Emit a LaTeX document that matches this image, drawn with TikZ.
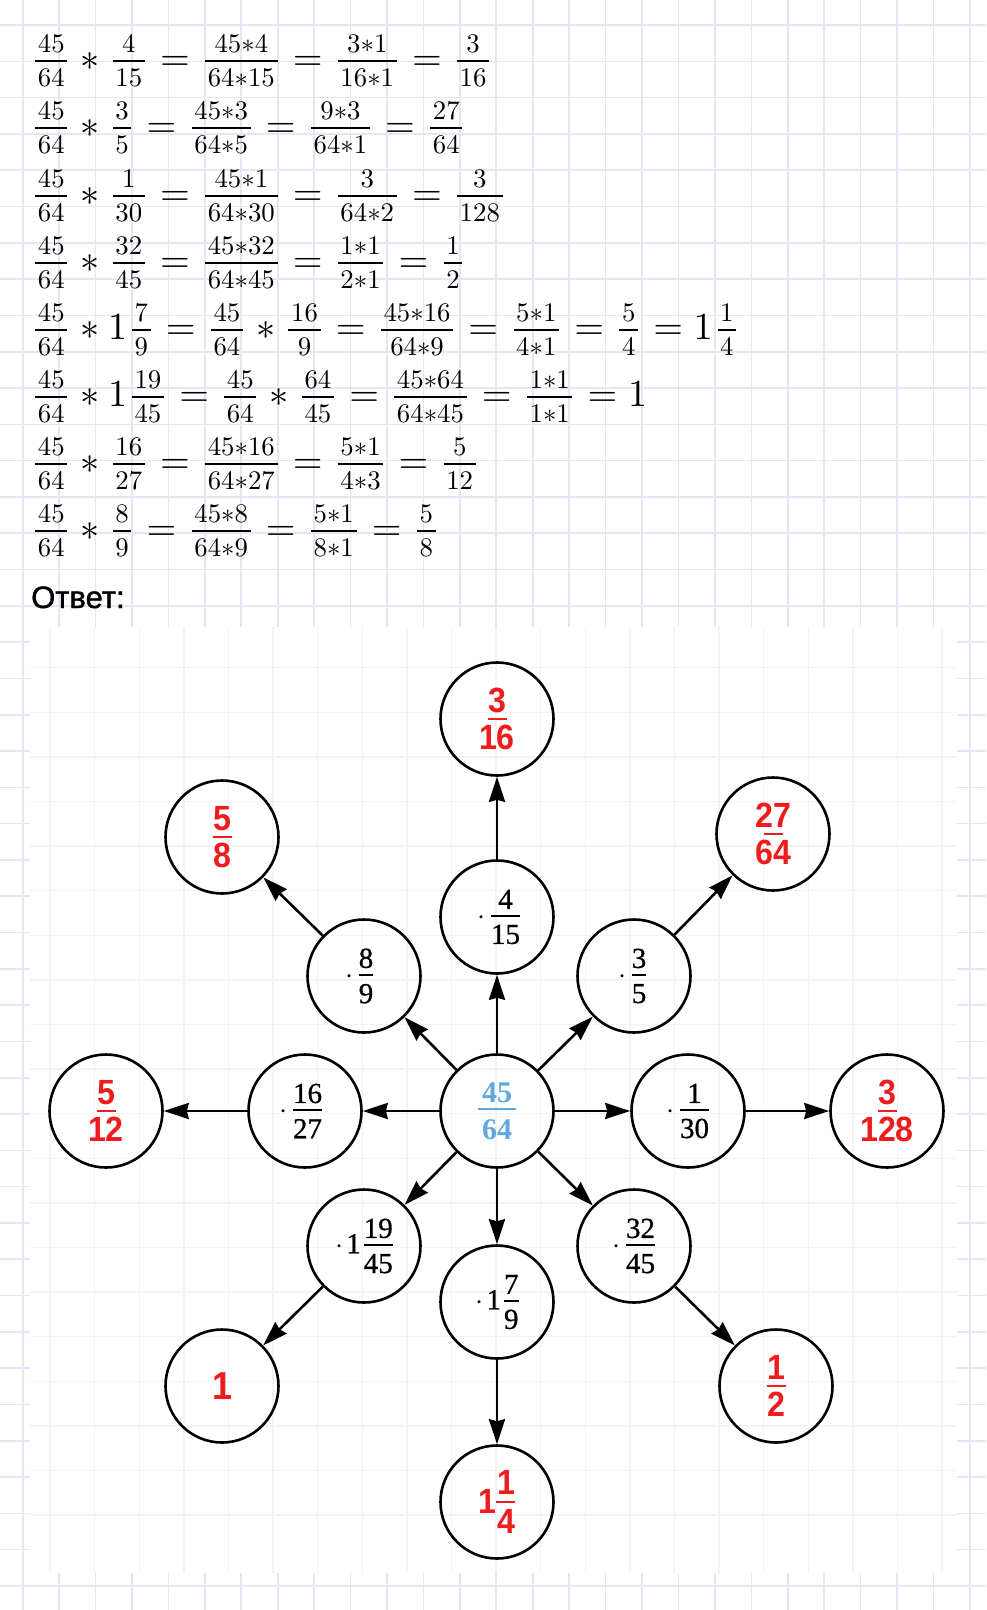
\RequirePackage{fix-cm}
\documentclass[tikz,border=0pt]{standalone}
\usepackage{amsmath}
\usepackage{fontspec}
\newfontfamily\tms{Liberation Serif}[FakeBold=0.8]
\newfontfamily\tmsb{Liberation Serif}[BoldFont={* Bold}]
\newfontfamily\ars{Liberation Sans}
\newfontfamily\arsm{Liberation Sans}[FakeBold=1.2]
\usetikzlibrary{arrows.meta}
\definecolor{gridc}{RGB}{228,229,245}
\definecolor{scang}{RGB}{242,242,248}
\definecolor{rd}{RGB}{238,28,28}
\definecolor{bl}{RGB}{95,168,222}
\newcommand\st{\mathord{\ast}}
\newcommand\qb[2]{\vcenter{\offinterlineskip\halign{\hfil##\hfil\cr\kern.7pt\scalebox{.7}{$#1$}\kern.7pt\cr\noalign{\kern1.95pt\hrule height .52pt\kern1.95pt}\kern.7pt\scalebox{.7}{$#2$}\kern.7pt\cr}}}
\newcommand\q[2]{\mathinner{\kern1.2pt\qb{#1}{#2}\kern1.2pt}}
\newcommand\qm[2]{\mathord{\kern1.2pt\qb{#1}{#2}\kern1.2pt}}
\newcommand\bfr[2]{\vcenter{\offinterlineskip\halign{\hfil##\hfil\cr\mbox{#1}\cr\noalign{\kern6pt\hrule height1.8pt\kern8pt}\mbox{#2}\cr}}}
\newcommand\rd[1]{\scalebox{0.92}[1]{#1}}
\newcommand\rfr[3][5pt]{\vbox{\offinterlineskip\halign{\hfil##\hfil\cr\rd{#2}\cr\noalign{\kern#1}\rule{19pt}{1.8pt}\cr\noalign{\kern#1}\rd{#3}\cr}}}
\tikzset{
  circ/.style={circle,draw=black,line width=2.6pt,minimum size=113pt,inner sep=0pt},
  opn/.style={circ,font=\fontsize{29}{34}\tms},
  res/.style={circ,text=rd,font=\fontsize{35}{40}\ars\bfseries},
  arr/.style={line width=2.6pt,-{Stealth[length=25pt,width=16pt,inset=2pt]}},
  eqn/.style={anchor=base west,inner sep=0pt,font=\fontsize{10}{12}\selectfont}
}
\begin{document}
\begin{tikzpicture}[x=1pt,y=-1pt]
\useasboundingbox (0,0) rectangle (986,1610);
\fill[white] (0,0) rectangle (986,1610);
% page grid
\foreach \i in {0,...,26} \draw[gridc,line width=1.6pt] ({22.7+36.43*\i},0) -- ({22.7+36.43*\i},1610);
\foreach \j in {0,...,43} \draw[gridc,line width=1.6pt] (0,{25+36.3*\j}) -- (986,{25+36.3*\j});
% scanned area
\fill[white] (30,627) rectangle (957,1573);
\foreach \i in {0,...,20} \draw[scang,line width=1.4pt] ({50+44.6*\i},627) -- ({50+44.6*\i},1573);
\foreach \j in {0,...,19} \draw[scang,line width=1.4pt] (30,{1515-44.6*\j}) -- (957,{1515-44.6*\j});
% equations
\node[eqn] (e1) at (30.4,70.6) {\scalebox{3.83}{$\q{45}{64}\ast\q{4}{15}=\q{45\st4}{64\st15}=\q{3\st1}{16\st1}=\q{3}{16}$}};
\node[eqn] (e2) at (30.4,137.7) {\scalebox{3.83}{$\q{45}{64}\ast\q{3}{5}=\q{45\st3}{64\st5}=\q{9\st3}{64\st1}=\q{27}{64}$}};
\node[eqn] (e3) at (30.4,205.6) {\scalebox{3.83}{$\q{45}{64}\ast\q{1}{30}=\q{45\st1}{64\st30}=\q{3}{64\st2}=\q{3}{128}$}};
\node[eqn] (e4) at (30.4,272.7) {\scalebox{3.83}{$\q{45}{64}\ast\q{32}{45}=\q{45\st32}{64\st45}=\q{1\st1}{2\st1}=\q{1}{2}$}};
\node[eqn] (e5) at (30.4,339.7) {\scalebox{3.83}{$\q{45}{64}\ast1\qm{7}{9}=\q{45}{64}\ast\q{16}{9}=\q{45\st16}{64\st9}=\q{5\st1}{4\st1}=\q{5}{4}=1\qm{1}{4}$}};
\node[eqn] (e6) at (30.4,406.7) {\scalebox{3.83}{$\q{45}{64}\ast1\qm{19}{45}=\q{45}{64}\ast\q{64}{45}=\q{45\st64}{64\st45}=\q{1\st1}{1\st1}=1$}};
\node[eqn] (e7) at (30.4,473.7) {\scalebox{3.83}{$\q{45}{64}\ast\q{16}{27}=\q{45\st16}{64\st27}=\q{5\st1}{4\st3}=\q{5}{12}$}};
\node[eqn] (e8) at (30.4,540.7) {\scalebox{3.83}{$\q{45}{64}\ast\q{8}{9}=\q{45\st8}{64\st9}=\q{5\st1}{8\st1}=\q{5}{8}$}};
\node[anchor=base west,inner sep=0pt,font=\fontsize{31}{36}\arsm] (otv) at (31,608) {Ответ:};
% diagram nodes
\node[circ,font=\fontsize{30}{34}\tmsb\bfseries,text=bl] (c) at (497,1111)
  {$\vcenter{\offinterlineskip\halign{\hfil#\hfil\cr\mbox{\kern4pt 45\kern4pt}\cr\noalign{\kern6pt\hrule height2pt\kern9pt}\mbox{64}\cr}}$};
\node[opn] (a415) at (497,917) {$\kern4pt\cdot\kern5pt\bfr{4}{15}$};
\node[res] (r316) at (497,719) {\rfr{3}{16}};
\node[opn] (a89) at (364,976) {$\cdot\kern5pt\bfr{8}{9}\kern9pt$};
\node[res] (r58) at (222,837) {\rfr{5}{8}};
\node[opn] (a35) at (634,976) {$\cdot\kern5pt\bfr{3}{5}\kern3pt$};
\node[res] (r2764) at (773,834) {\rfr{27}{64}};
\node[opn] (a1627) at (305,1111) {$\cdot\kern5pt\bfr{16}{27}\kern8pt$};
\node[res] (r512) at (106,1111) {\rfr{5}{12}};
\node[opn] (a130) at (688,1111) {$\cdot\kern5pt\bfr{1}{30}$};
\node[res] (r3128) at (887,1111) {\rfr{3}{128}};
\node[opn] (a11945) at (364,1246) {$\cdot\kern3pt\mbox{1}\kern3pt\bfr{19}{45}$};
\node[res,font=\fontsize{39}{44}\ars\bfseries] (r1) at (222,1386) {\rd{1}};
\node[opn] (a179) at (497,1302) {$\cdot\kern3pt\mbox{1}\kern3pt\bfr{7}{9}$};
\node[res] (r114) at (497,1502) {\rd{1}\raisebox{3pt}{$\vcenter{\hbox{\rfr[7pt]{1}{4}}}$}};
\node[opn] (a3245) at (634,1246) {$\cdot\kern5pt\bfr{32}{45}$};
\node[res] (r12) at (776,1386) {\rfr{1}{2}};
% arrows
\draw[arr] (c) -- (a415);
\draw[arr] (a415) -- (r316);
\draw[arr] (c) -- (a89);
\draw[arr] (a89) -- (r58);
\draw[arr] (c) -- (a35);
\draw[arr] (a35) -- (r2764);
\draw[arr] (c) -- (a1627);
\draw[arr] (a1627) -- (r512);
\draw[arr] (c) -- (a130);
\draw[arr] (a130) -- (r3128);
\draw[arr] (c) -- (a11945);
\draw[arr] (a11945) -- (r1);
\draw[arr] (c) -- (a179);
\draw[arr] (a179) -- (r114);
\draw[arr] (c) -- (a3245);
\draw[arr] (a3245) -- (r12);
\end{tikzpicture}
\end{document}
